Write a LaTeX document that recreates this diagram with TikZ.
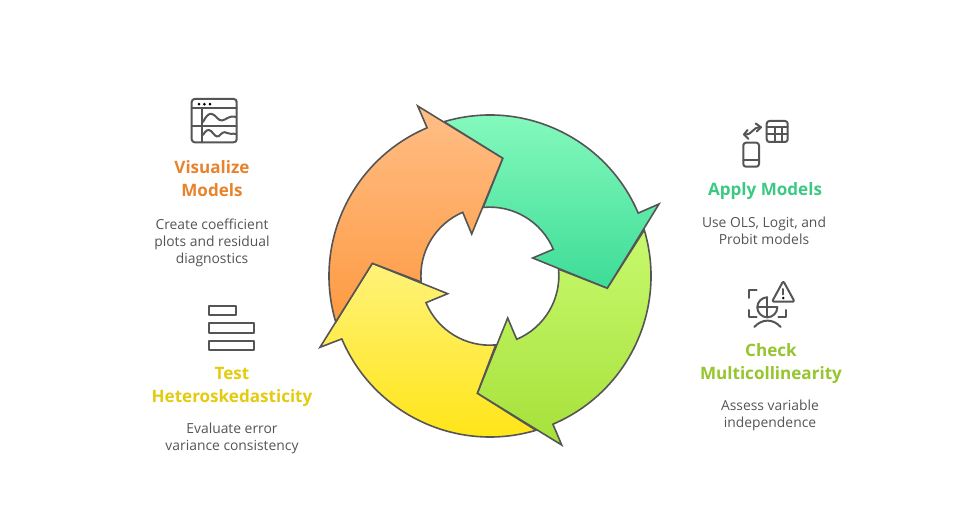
\documentclass[tikz,border=0pt]{standalone}
\usepackage{fontspec}
\setmainfont{Open Sans}
\definecolor{stroke}{HTML}{555555}
\definecolor{bodytext}{HTML}{555555}
\definecolor{orangehead}{HTML}{E8832B}
\definecolor{greenhead}{HTML}{3CC983}
\definecolor{limehead}{HTML}{96C52D}
\definecolor{yellowhead}{HTML}{E4CB10}
\tikzset{
  x=0.75pt,y=0.75pt,
  ringarrow/.style={draw=stroke,line width=1.2pt,line join=miter,miter limit=10},
  heading/.style={font=\fontsize{12.8}{17.25}\selectfont\bfseries,align=center,inner sep=0pt},
  bodycopy/.style={font=\fontsize{10.4}{12.75}\selectfont,align=center,inner sep=0pt,text=bodytext},
  icon/.style={draw=stroke,line width=1.5pt,line cap=round,line join=round},
}
\begin{document}
\begin{tikzpicture}
\useasboundingbox (0,0) rectangle (980,517);
\fill[white] (0,0) rectangle (980,517);
% ring (centre 490,276 in picture pixels)
\begin{scope}[shift={(490,241)}]
\draw[ringarrow,top color={rgb,255:red,139;green,252;blue,192},bottom color={rgb,255:red,61;green,220;blue,151}]
  (106.6:120.75pt) arc[start angle=106.6,end angle=23,radius=120.75pt]
  -- (169,72) -- (117.3,-12.3) -- (42.7,18) -- (63.3,26.7)
  arc[start angle=22.9,end angle=95.5,radius=51.75pt] -- (12.7,117.7) -- cycle;
\draw[ringarrow,top color={rgb,255:red,200;green,249;blue,110},bottom color={rgb,255:red,166;green,225;blue,58}]
  (16.6:120.75pt) arc[start angle=16.6,end angle=-67,radius=120.75pt]
  -- (71.7,-169) -- (-12.7,-117.3) -- (17.7,-42) -- (26.7,-63.3)
  arc[start angle=-67.1,end angle=5.5,radius=51.75pt] -- (117.3,-12.3) -- cycle;
\draw[ringarrow,top color={rgb,255:red,255;green,242;blue,122},bottom color={rgb,255:red,255;green,228;blue,15}]
  (-73.4:120.75pt) arc[start angle=-73.4,end angle=-157,radius=120.75pt]
  -- (-170,-71.3) -- (-117.7,12.7) -- (-42.3,-17.7) -- (-64,-26.7)
  arc[start angle=-157.4,end angle=-85,radius=51.75pt] -- (-12.7,-117.3) -- cycle;
\draw[ringarrow,top color={rgb,255:red,255;green,190;blue,134},bottom color={rgb,255:red,254;green,154;blue,66}]
  (196.6:120.75pt) arc[start angle=196.6,end angle=113,radius=120.75pt]
  -- (-72.3,170) -- (12.7,117.7) -- (-18.3,42) -- (-27.3,63.7)
  arc[start angle=113.2,end angle=185.2,radius=51.75pt] -- (-117.7,12.7) -- cycle;
\end{scope}
% labels
\node[heading,text=orangehead] (vishead) at (212,338) {Visualize\\Models};
\node[bodycopy] (visbody) at (212,274) {Create coefficient\\plots and residual\\diagnostics};
\node[heading,text=greenhead] (applyhead) at (765,325.5) {Apply Models};
\node[bodycopy] (applybody) at (764,286) {Use OLS, Logit, and\\Probit models};
\node[heading,text=limehead] (checkhead) at (771,153) {Check\\Multicollinearity};
\node[bodycopy] (checkbody) at (770,102) {Assess variable\\independence};
\node[heading,text=yellowhead] (testhead) at (232,130) {Test\\Heteroskedasticity};
\node[bodycopy] (testbody) at (232,79) {Evaluate error\\variance consistency};
% icons, in picture pixels measured downward
\begin{scope}[shift={(0,517)},y=-0.75pt]
% visualize icon
\draw[icon,rounded corners=2.2pt] (191.7,99) rectangle (236.7,142.3);
\draw[icon] (191.7,108.3) -- (236.7,108.3) (191.7,125.7) -- (236.7,125.7) (202.3,108.3) -- (202.3,142.3);
\fill[stroke] (199,104.2) circle[radius=1.1pt] (204.4,104.2) circle[radius=1.1pt] (210,104.2) circle[radius=1.1pt];
\draw[icon] (203,122) .. controls (206,116) and (209,113) .. (212,114) .. controls (216,115) and (218,121) .. (222,120.5) .. controls (226,120) and (229,115) .. (236,117);
\draw[icon] (203,135) .. controls (206,130) and (208,129) .. (211,131) .. controls (214,134) and (216,138) .. (219,136) .. controls (222,133) and (224,131) .. (227,133) .. controls (230,135) and (232,133) .. (236,134);
% apply icon
\draw[icon,rounded corners=2pt] (766.7,121) rectangle (787.7,142);
\draw[icon] (766.7,127.3) -- (787.7,127.3) (766.7,134.4) -- (787.7,134.4) (775,127.3) -- (775,142) (781.6,127.3) -- (781.6,142);
\draw[icon,rounded corners=2pt] (743.3,142.7) rectangle (759,166.7);
\draw[icon] (743.3,160) -- (759,160);
\draw[icon] (761,127.3) .. controls (751,127) and (754,135) .. (744,134.5);
\draw[icon] (755.7,123.5) -- (761,127.3) -- (756.7,131.5);
\draw[icon] (747.5,130) -- (744,134.5) -- (748.5,139);
% check icon
\draw[icon] (756.7,290.5) -- (749,290.5) -- (749,298);
\draw[icon] (749,310) -- (749,316.7) -- (756.7,316.7);
\draw[icon] (778.3,316.7) -- (785.7,316.7) -- (785.7,310);
\draw[icon] (767.3,297.3) .. controls (761.8,297.3) and (757.3,301.8) .. (757.3,307.3) .. controls (757.3,312.8) and (761.8,317.3) .. (767.3,317.3) .. controls (772.8,317.3) and (777.3,312.8) .. (777.3,307.3);
\draw[icon] (767.3,297.3) -- (767.3,317.3) (757.3,307.3) -- (777.3,307.3);
\draw[icon] (754.3,327) .. controls (762,318.5) and (773,318.5) .. (780.7,327);
\draw[icon,rounded corners=1.5pt] (783.3,281) -- (772,301.7) -- (794.6,301.7) -- cycle;
\draw[icon] (783.3,289) -- (783.3,294.5);
\fill[stroke] (783.3,298) circle[radius=1pt];
% test icon
\draw[icon,line cap=butt] (209.3,305.7) rectangle (236.3,315);
\draw[icon,line cap=butt] (209.3,323.3) rectangle (254,332.7);
\draw[icon,line cap=butt] (209.3,340.7) rectangle (254,350);
\end{scope}
\end{tikzpicture}
\end{document}
